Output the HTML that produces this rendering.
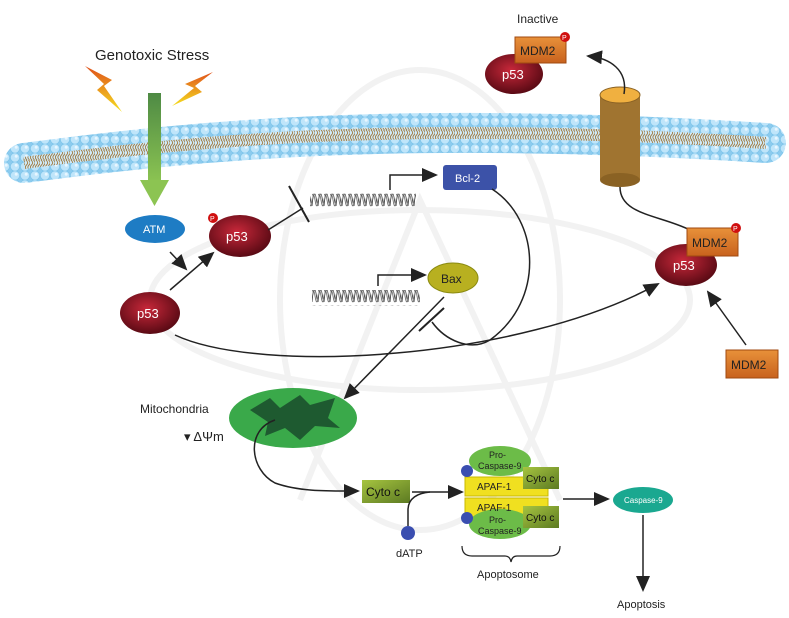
<!DOCTYPE html><html><head><style>body{margin:0;background:#fff}svg{display:block;font-family:"Liberation Sans",sans-serif}</style></head><body>
<svg width="789" height="618" viewBox="0 0 789 618" xmlns="http://www.w3.org/2000/svg">
<defs>
<marker id="ahb" markerWidth="16" markerHeight="14" refX="14" refY="7" orient="auto" markerUnits="userSpaceOnUse"><path d="M0,0 L16,7 L0,14z" fill="#222"/></marker>
<radialGradient id="red" cx="0.45" cy="0.4" r="0.6"><stop offset="0" stop-color="#c8283a"/><stop offset="1" stop-color="#5a0a14"/></radialGradient>
<linearGradient id="grn" x1="0" y1="0" x2="0" y2="1"><stop offset="0" stop-color="#4e8a44"/><stop offset="1" stop-color="#8cc452"/></linearGradient>
<linearGradient id="org" x1="0" y1="0" x2="0" y2="1"><stop offset="0" stop-color="#e8913a"/><stop offset="1" stop-color="#c8621e"/></linearGradient>
<linearGradient id="cyt" x1="0" y1="0" x2="1" y2="1"><stop offset="0" stop-color="#a6c440"/><stop offset="1" stop-color="#5c7a22"/></linearGradient>
<linearGradient id="bolt" x1="0" y1="0" x2="0" y2="1"><stop offset="0" stop-color="#e0501a"/><stop offset="1" stop-color="#f5e020"/></linearGradient>
<pattern id="balls" width="10" height="9" patternUnits="userSpaceOnUse">
<rect width="10" height="9" fill="#8ccbee"/>
<circle cx="5" cy="4.5" r="4.6" fill="#bfe5fa" stroke="#7cc4ea" stroke-width="0.6"/>
<circle cx="6.2" cy="3.2" r="1.5" fill="#e8f6ff"/>
</pattern>
<pattern id="lip" width="5" height="10" patternUnits="userSpaceOnUse">
<rect width="5" height="10" fill="#cfe9f7"/>
<path d="M1,0 Q4,2.5 1.5,5 Q-1,7.5 2,10 M3.5,0 Q6.5,2.5 4,5 Q1.5,7.5 4.5,10" fill="none" stroke="#a07a40" stroke-width="0.9"/>
</pattern>
<pattern id="coil" x="0" y="0" width="6" height="16" patternUnits="userSpaceOnUse">
<path d="M0,14 C1,2 2,2 3,2 C4,2 5,14 6,14" fill="none" stroke="#333" stroke-width="0.8"/>
<path d="M-1.5,14 C-0.5,2 0.5,2 1.5,2 C2.5,2 3.5,14 4.5,14 C5.5,14 6.5,2 7.5,2" fill="none" stroke="#666" stroke-width="0.8"/>
</pattern>
</defs>
<g fill="none" stroke="#f2f2f2" stroke-width="6">
<ellipse cx="420" cy="300" rx="270" ry="90"/>
<ellipse cx="420" cy="300" rx="140" ry="230" />
<path d="M300 500 L420 200 L560 500"/>
</g>
<!-- membrane -->
<path d="M24,163 C200,140 400,120 766,143" fill="none" stroke="url(#balls)" stroke-width="40" stroke-linecap="round"/>
<path d="M24,163 C200,140 400,120 766,143" fill="none" stroke="url(#lip)" stroke-width="12"/>
<!-- channel -->
<rect x="600" y="95" width="40" height="85" fill="#a07430"/>
<ellipse cx="620" cy="180" rx="20" ry="7" fill="#8a6224"/>
<ellipse cx="620" cy="95" rx="20" ry="8" fill="#f0b040" stroke="#8a6224"/>
<!-- bolts -->
<path d="M85,66 L112,80 L104,86 L122,112 L97,90 L104,84z" fill="url(#bolt)"/>
<path d="M213,72 L185,84 L194,88 L172,106 L202,92 L195,86z" fill="url(#bolt)"/>
<text x="95" y="60" font-size="15" fill="#222">Genotoxic Stress</text>
<rect x="148" y="93" width="13" height="90" fill="url(#grn)"/>
<path d="M140,180 L169,180 L154.5,206z" fill="#8cc452"/>
<!-- top right -->
<text x="517" y="23" font-size="12" fill="#222">Inactive</text>
<ellipse cx="514" cy="74" rx="29" ry="20" fill="url(#red)"/>
<text x="502" y="79" font-size="13" fill="#fff">p53</text>
<rect x="515" y="37" width="51" height="26" fill="url(#org)" stroke="#a04a10"/>
<text x="520" y="55" font-size="12" fill="#222">MDM2</text>
<circle cx="565" cy="37" r="5" fill="#d01010"/><text x="562" y="40" font-size="7" fill="#fff">P</text>
<path d="M624,94 C628,70 610,58 588,56" fill="none" stroke="#222" stroke-width="1.5" marker-end="url(#ahb)"/>
<path d="M620,187 C620,215 660,215 690,230" fill="none" stroke="#222" stroke-width="1.5"/>
<ellipse cx="686" cy="265" rx="31" ry="21" fill="url(#red)"/>
<text x="673" y="270" font-size="13" fill="#fff">p53</text>
<rect x="687" y="228" width="51" height="28" fill="url(#org)" stroke="#a04a10"/>
<text x="692" y="247" font-size="12" fill="#222">MDM2</text>
<circle cx="736" cy="228" r="5" fill="#d01010"/><text x="733" y="231" font-size="7" fill="#fff">P</text>
<rect x="726" y="350" width="52" height="28" fill="url(#org)" stroke="#a04a10"/>
<text x="731" y="369" font-size="12" fill="#222">MDM2</text>
<line x1="746" y1="345" x2="708" y2="292" stroke="#222" stroke-width="1.5" marker-end="url(#ahb)"/>
<!-- left -->
<ellipse cx="155" cy="229" rx="30" ry="14" fill="#1e7cc4"/>
<text x="143" y="233" font-size="11" fill="#fff">ATM</text>
<ellipse cx="240" cy="236" rx="31" ry="21" fill="url(#red)"/>
<text x="226" y="241" font-size="13" fill="#fff">p53</text>
<circle cx="213" cy="218" r="5" fill="#d01010"/><text x="210" y="221" font-size="7" fill="#fff">P</text>
<ellipse cx="150" cy="313" rx="30" ry="21" fill="url(#red)"/>
<text x="137" y="318" font-size="13" fill="#fff">p53</text>
<line x1="170" y1="252" x2="186" y2="269" stroke="#222" stroke-width="1.5" marker-end="url(#ahb)"/>
<line x1="170" y1="290" x2="213" y2="253" stroke="#222" stroke-width="1.5" marker-end="url(#ahb)"/>
<line x1="268" y1="230" x2="303" y2="208" stroke="#222" stroke-width="1.5"/>
<line x1="289" y1="186" x2="309" y2="222" stroke="#222" stroke-width="2"/>
<!-- DNA -->
<rect x="310" y="192" width="106" height="16" fill="url(#coil)"/>
<rect x="312" y="290" width="108" height="16" fill="url(#coil)"/>
<path d="M390,190 L390,175 L436,175" fill="none" stroke="#222" stroke-width="1.5" marker-end="url(#ahb)"/>
<rect x="443" y="165" width="54" height="25" rx="3" fill="#3c52a8"/>
<text x="455" y="182" font-size="11" fill="#fff">Bcl-2</text>
<path d="M378,286 L378,275 L425,275" fill="none" stroke="#222" stroke-width="1.5" marker-end="url(#ahb)"/>
<ellipse cx="453" cy="278" rx="25" ry="15" fill="#b8b020" stroke="#8a8a10"/>
<text x="441" y="283" font-size="12" fill="#222">Bax</text>
<path d="M492,189 C540,220 545,300 490,340 C470,352 445,340 432,322" fill="none" stroke="#222" stroke-width="1.5"/>
<line x1="419" y1="331" x2="444" y2="308" stroke="#222" stroke-width="2"/>
<line x1="444" y1="297" x2="345" y2="398" stroke="#222" stroke-width="1.5" marker-end="url(#ahb)"/>
<path d="M175,335 C260,375 520,360 658,284" fill="none" stroke="#222" stroke-width="1.5" marker-end="url(#ahb)"/>
<!-- mito -->
<ellipse cx="293" cy="418" rx="64" ry="30" fill="#3aa94a"/>
<path d="M250,410 L270,398 L280,408 L300,395 L310,405 L335,398 L328,418 L340,428 L315,426 L300,440 L285,428 L265,436 L268,422z" fill="#1e5a30"/>
<text x="140" y="413" font-size="12" fill="#222">Mitochondria</text>
<text x="184" y="441" font-size="13" fill="#222">▾ ΔΨm</text>
<path d="M275,420 C245,430 250,470 275,483 C300,492 330,491 358,491" fill="none" stroke="#222" stroke-width="1.5" marker-end="url(#ahb)"/>
<rect x="362" y="480" width="48" height="23" fill="url(#cyt)"/>
<text x="366" y="496" font-size="12" fill="#111">Cyto c</text>
<line x1="412" y1="492" x2="462" y2="492" stroke="#222" stroke-width="1.5" marker-end="url(#ahb)"/>
<path d="M408,526 L408,510 C408,498 418,493 430,492" fill="none" stroke="#222" stroke-width="1.5"/>
<circle cx="408" cy="533" r="7" fill="#3a4eb0"/>
<text x="396" y="557" font-size="11" fill="#222">dATP</text>
<!-- apoptosome -->
<rect x="465" y="477" width="83" height="19" fill="#f0e020" stroke="#c8b800"/>
<rect x="465" y="498" width="83" height="19" fill="#f0e020" stroke="#c8b800"/>
<ellipse cx="500" cy="461" rx="31" ry="15" fill="#6cbc48"/>
<ellipse cx="500" cy="524" rx="31" ry="15" fill="#6cbc48"/>
<text x="489" y="458" font-size="9" fill="#222">Pro-</text><text x="478" y="469" font-size="9" fill="#222">Caspase-9</text>
<text x="489" y="523" font-size="9" fill="#222">Pro-</text><text x="478" y="534" font-size="9" fill="#222">Caspase-9</text>
<text x="477" y="490" font-size="10" fill="#222">APAF-1</text><text x="477" y="511" font-size="10" fill="#222">APAF-1</text>
<rect x="523" y="467" width="36" height="22" fill="url(#cyt)"/><text x="526" y="482" font-size="10" fill="#111">Cyto c</text>
<rect x="523" y="506" width="36" height="22" fill="url(#cyt)"/><text x="526" y="521" font-size="10" fill="#111">Cyto c</text>
<circle cx="467" cy="471" r="6" fill="#3a4eb0"/><circle cx="467" cy="518" r="6" fill="#3a4eb0"/>
<path d="M462,546 Q462,556 472,556 L505,556 Q510,556 511,562 Q512,556 517,556 L550,556 Q560,556 560,546" fill="none" stroke="#222" stroke-width="1.2"/>
<text x="477" y="578" font-size="11" fill="#222">Apoptosome</text>
<line x1="563" y1="499" x2="608" y2="499" stroke="#222" stroke-width="1.5" marker-end="url(#ahb)"/>
<ellipse cx="643" cy="500" rx="30" ry="13" fill="#1aa890"/>
<text x="624" y="503" font-size="8" fill="#fff">Caspase-9</text>
<line x1="643" y1="515" x2="643" y2="590" stroke="#222" stroke-width="1.5" marker-end="url(#ahb)"/>
<text x="617" y="608" font-size="11" fill="#222">Apoptosis</text>
</svg></body></html>
